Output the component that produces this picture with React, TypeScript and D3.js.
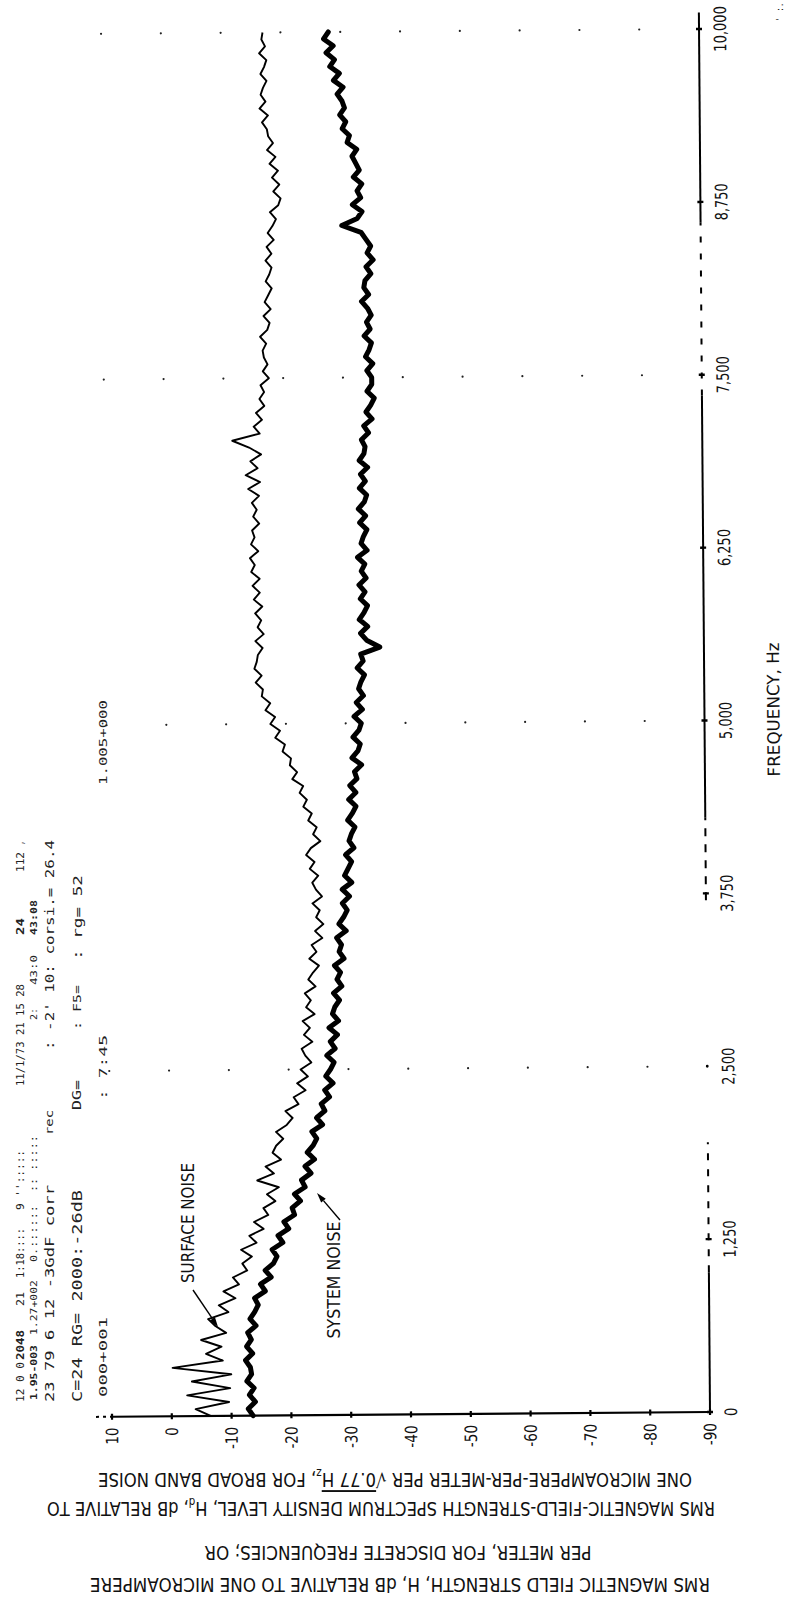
import React from "react";
import * as d3 from "d3";

// ---------------- data ----------------
const dbTicks = [10, 0, -10, -20, -30, -40, -50, -60, -70, -80, -90];
const dbTickLabels = ["10", "0", "-10", "-20", "-30", "-40", "-50", "-60", "-70", "-80", "-90"];
const freqTicks = [0, 1250, 2500, 3750, 5000, 6250, 7500, 8750, 10000];
const freqTickLabels = ["0", "1,250", "2,500", "3,750", "5,000", "6,250", "7,500", "8,750", "10,000"];
const gridDotFreqs = [2500, 5000, 7500, 10000];
const sampleStepHz = 50;

// Surface noise (thin trace), dB, every 50 Hz from 0 to 10,000 Hz
const surfaceNoise = [
  -6.5, -4.0, -9.6, -2.6, -9.8, -3.4, -10.0, -0.2, -8.6, -5.8,
  -8.4, -5.0, -9.2, -7.4, -6.2, -9.6, -8.0, -10.8, -8.8, -11.4,
  -10.4, -12.8, -12.0, -13.6, -11.8, -14.4, -13.2, -15.6, -14.0, -16.4,
  -15.6, -17.6, -16.2, -18.2, -14.6, -17.4, -16.0, -18.6, -17.2, -17.8,
  -19.0, -17.8, -19.6, -20.6, -19.4, -21.6, -20.8, -22.8, -21.4, -23.2,
  -22.0, -23.8, -22.8, -22.2, -24.0, -22.6, -23.6, -22.4, -24.4, -23.0,
  -23.8, -22.8, -24.6, -23.4, -24.2, -25.2, -23.6, -24.8, -24.0, -25.8,
  -24.6, -26.0, -24.8, -25.4, -24.2, -25.8, -24.8, -24.2, -25.2, -23.8,
  -24.6, -23.2, -24.0, -25.6, -24.4, -25.0, -23.6, -24.2, -22.8, -23.4,
  -22.2, -22.8, -21.0, -21.8, -20.6, -20.8, -19.4, -19.8, -18.2, -19.0,
  -17.4, -18.2, -16.6, -17.4, -16.0, -16.2, -15.0, -16.0, -14.8, -15.2,
  -15.4, -16.2, -15.0, -16.4, -15.4, -16.0, -15.0, -16.2, -14.8, -15.8,
  -14.6, -15.8, -14.4, -15.0, -14.2, -15.6, -14.4, -15.0, -14.6, -15.8,
  -14.8, -15.4, -14.6, -15.8, -14.0, -16.0, -13.6, -15.6, -14.4, -16.2,
  -14.2, -11.4, -16.0, -15.0, -16.4, -15.4, -16.8, -16.0, -16.8, -16.2,
  -17.6, -16.6, -17.4, -16.8, -16.6, -17.2, -16.2, -17.4, -17.8, -16.8,
  -18.0, -17.0, -17.6, -18.2, -17.2, -17.8, -18.2, -17.2, -18.2, -17.4,
  -18.6, -17.6, -18.4, -19.0, -18.0, -19.4, -19.8, -18.6, -19.6, -18.4,
  -19.4, -18.0, -19.0, -17.6, -18.6, -17.8, -17.6, -16.8, -17.8, -16.4,
  -17.4, -16.6, -17.0, -17.6, -16.6, -17.2, -17.6, -16.4, -17.4, -16.8,
  -17.0,
];

// System noise (thick trace), dB, every 50 Hz from 0 to 10,000 Hz
const systemNoise = [
  -13.6, -12.8, -14.0, -13.0, -13.8, -12.6, -13.4, -13.2, -12.4, -13.6,
  -12.6, -13.4, -12.8, -14.2, -13.2, -14.0, -14.6, -14.0, -15.8, -15.0,
  -16.8, -15.8, -17.2, -17.8, -17.0, -18.8, -18.0, -19.8, -19.0, -20.8,
  -20.4, -21.8, -20.8, -22.6, -22.0, -23.6, -22.6, -24.2, -23.0, -24.0,
  -24.6, -23.8, -25.6, -24.6, -26.0, -25.4, -26.8, -26.0, -27.4, -26.2,
  -27.0, -27.6, -26.4, -27.8, -27.0, -28.2, -26.8, -28.4, -27.4, -27.8,
  -28.6, -27.6, -29.0, -28.2, -28.8, -27.8, -29.4, -28.6, -29.0, -28.2,
  -29.8, -28.6, -29.4, -30.0, -29.2, -30.4, -29.2, -30.8, -29.6, -30.2,
  -30.8, -29.8, -31.2, -30.4, -30.8, -31.4, -30.2, -31.0, -31.6, -30.4,
  -31.6, -30.6, -31.8, -31.4, -32.6, -31.0, -32.0, -32.4, -31.2, -32.2,
  -32.6, -31.4, -32.8, -31.8, -33.0, -32.2, -32.6, -33.2, -32.0, -33.0,
  -32.6, -35.8, -33.6, -32.6, -33.8, -32.4, -33.2, -33.8, -32.6, -33.4,
  -32.4, -33.6, -32.8, -33.4, -32.2, -33.8, -32.8, -33.2, -33.8, -32.6,
  -33.6, -32.4, -33.4, -33.8, -32.6, -33.6, -32.8, -34.0, -32.6, -33.4,
  -33.6, -33.0, -34.2, -33.4, -34.8, -33.8, -34.6, -35.2, -34.0, -34.8,
  -34.8, -34.0, -35.0, -33.8, -34.4, -34.8, -33.6, -34.6, -34.0, -34.8,
  -34.2, -33.2, -34.4, -33.6, -33.8, -34.8, -34.0, -35.2, -34.2, -34.8,
  -34.0, -33.2, -30.0, -32.6, -33.4, -31.8, -33.2, -32.6, -33.4, -32.0,
  -33.0, -32.4, -31.8, -32.6, -31.0, -31.4, -30.2, -30.8, -29.8, -30.6,
  -30.2, -29.4, -30.4, -28.8, -29.8, -28.2, -29.0, -27.6, -28.8, -27.2,
  -28.0,
];

const xAxisTitle = "FREQUENCY, Hz";
const surfaceLabel = "SURFACE NOISE";
const systemLabel = "SYSTEM NOISE";

// computer printout remnants (rotated text columns)
const printout = [
  { x: 20, y: 1402, len: 40, fs: 10, t: "12 0 0" },
  { x: 20, y: 1360, len: 30, fs: 10, t: "2048", b: true },
  { x: 20, y: 1306, len: 14, fs: 10, t: "21" },
  { x: 20, y: 1278, len: 50, fs: 10, t: "1:18::::" },
  { x: 20, y: 1210, len: 60, fs: 10, t: "9 '':::::" },
  { x: 20, y: 1086, len: 102, fs: 10, t: "11/1/73 21 15 28" },
  { x: 20, y: 935, len: 17, fs: 10, t: "24", b: true },
  { x: 20, y: 872, len: 20, fs: 10, t: "112" },
  { x: 20, y: 845, len: 4, fs: 10, t: "," },
  { x: 34, y: 1400, len: 55, fs: 9, t: "1.95-003", b: true },
  { x: 34, y: 1335, len: 55, fs: 9, t: "1.27+002" },
  { x: 34, y: 1262, len: 57, fs: 9, t: "0.::::::" },
  { x: 34, y: 1192, len: 57, fs: 9, t: ":: :::::" },
  { x: 34, y: 1020, len: 12, fs: 9, t: "2:" },
  { x: 34, y: 985, len: 30, fs: 9, t: "43:0" },
  { x: 34, y: 935, len: 35, fs: 9, t: "43:08", b: true },
  { x: 49, y: 1402, len: 217, fs: 13, t: "23  79   6 12   -3GdF corr" },
  { x: 49, y: 1135, len: 25, fs: 11, t: "rec" },
  { x: 49, y: 1050, len: 210, fs: 13, t: ": -2'  10: corsi.= 26.4" },
  { x: 77, y: 1402, len: 212, fs: 14, t: "C=24 RG= 2000:-26dB" },
  { x: 77, y: 1110, len: 30, fs: 12, t: "DG=" },
  { x: 77, y: 1030, len: 45, fs: 11, t: ":  F5=" },
  { x: 77, y: 960, len: 85, fs: 13, t: ":  rg= 52" },
  { x: 103, y: 1397, len: 80, fs: 10, t: "000+001" },
  { x: 103, y: 1100, len: 65, fs: 10, t: ": 7:45" },
  { x: 103, y: 785, len: 85, fs: 10, t: "1.005+000" },
];

// frequency axis line segments (scan shows broken sections)
const freqAxisSegments = [
  { from: 0, to: 1010, dash: "" },
  { from: 1010, to: 1950, dash: "7 9" },
  { from: 3700, to: 4300, dash: "8 8" },
  { from: 4300, to: 7350, dash: "" },
  { from: 7350, to: 8600, dash: "6 11" },
  { from: 8600, to: 10120, dash: "" },
];

const FONT = "'DejaVu Sans Condensed', 'Liberation Sans Narrow', 'DejaVu Sans', sans-serif";
const MONO = "'DejaVu Sans Mono', 'Liberation Mono', monospace";

function glyphLen(s: string) {
  let w = 0;
  for (const c of s) {
    if (c === "," || c === ".") w += 3.6;
    else if (c === "-") w += 5.5;
    else w += 8.4;
  }
  return w;
}

function Arrow({ x1, y1, x2, y2 }: { x1: number; y1: number; x2: number; y2: number }) {
  const a = Math.atan2(y2 - y1, x2 - x1);
  const L = 10, hw = 3;
  const bx = x2 - L * Math.cos(a), by = y2 - L * Math.sin(a);
  const p1 = [bx + hw * Math.sin(a), by - hw * Math.cos(a)];
  const p2 = [bx - hw * Math.sin(a), by + hw * Math.cos(a)];
  return (
    <g>
      <line x1={x1} y1={y1} x2={bx} y2={by} stroke="#000" strokeWidth={1.4} />
      <polygon points={`${x2},${y2} ${p1[0]},${p1[1]} ${p2[0]},${p2[1]}`} fill="#000" />
    </g>
  );
}

export default function App() {
  const W = 790, H = 1606;
  const xDb = d3.scaleLinear().domain([10, -90]).range([112, 710]);
  const yHz = d3.scaleLinear().domain([0, 10000]).range([1412, 29]);
  const freqs = surfaceNoise.map((_, i) => i * sampleStepHz);
  const lineGen = d3
    .line<number>()
    .x((d) => xDb(d))
    .y((_, i) => yHz(freqs[i]))
    .curve(d3.curveLinear);

  const axisY = yHz(0);
  const axisX = xDb(-90);

  return (
    <svg
      width={W}
      height={H}
      viewBox={`0 0 ${W} ${H}`}
      style={{ position: "absolute", left: 0, top: 0, background: "#fff" }}
    >
      <rect x={0} y={0} width={W} height={H} fill="#fff" />
      {/* chart frame, slightly tilted like the scan */}
      <g transform={`rotate(-0.455, ${axisX}, ${axisY})`}>
        {/* grid dots */}
        {gridDotFreqs.map((f) =>
          dbTicks.slice(0, -1).map((d) => (
            <circle key={`g${f}_${d}`} cx={xDb(d)} cy={yHz(f)} r={1.1} fill="#222" />
          ))
        )}
        {/* dB axis */}
        <line x1={xDb(10)} y1={axisY} x2={axisX} y2={axisY} stroke="#000" strokeWidth={2.2} />
        <line x1={xDb(10) - 16} y1={axisY} x2={xDb(10)} y2={axisY} stroke="#000" strokeWidth={2} strokeDasharray="3 4" />
        {dbTicks.map((d) => (
          <line key={`dt${d}`} x1={xDb(d)} y1={axisY - 3} x2={xDb(d)} y2={axisY + 3} stroke="#000" strokeWidth={2.2} />
        ))}
        {dbTicks.map((d, i) => (
          <text
            key={`dl${d}`}
            x={xDb(d)}
            y={1423}
            transform={`rotate(-90, ${xDb(d)}, 1423)`}
            textAnchor="end"
            dominantBaseline="central"
            fontFamily={FONT}
            fontSize={17}
            textLength={glyphLen(dbTickLabels[i])}
            lengthAdjust="spacingAndGlyphs"
            fill="#111"
          >
            {dbTickLabels[i]}
          </text>
        ))}
        {/* frequency axis */}
        {freqAxisSegments.map((s, i) => (
          <line
            key={`fs${i}`}
            x1={axisX}
            y1={yHz(s.from)}
            x2={axisX}
            y2={yHz(s.to)}
            stroke="#000"
            strokeWidth={2}
            strokeDasharray={s.dash || undefined}
          />
        ))}
        {freqTicks.map((f) =>
          f === 2500 ? (
            <circle key={`ft${f}`} cx={axisX} cy={yHz(f)} r={1.4} fill="#000" />
          ) : (
            <line key={`ft${f}`} x1={axisX - 3} y1={yHz(f)} x2={axisX + 3} y2={yHz(f)} stroke="#000" strokeWidth={2.4} />
          )
        )}
        {freqTicks.map((f, i) => (
          <text
            key={`fl${f}`}
            x={731}
            y={yHz(f)}
            transform={`rotate(-90, 731, ${yHz(f)})`}
            textAnchor="middle"
            dominantBaseline="central"
            fontFamily={FONT}
            fontSize={17}
            textLength={glyphLen(freqTickLabels[i])}
            lengthAdjust="spacingAndGlyphs"
            fill="#111"
          >
            {freqTickLabels[i]}
          </text>
        ))}
        <text
          x={779}
          y={710}
          transform="rotate(-90, 779, 710)"
          textAnchor="middle"
          dominantBaseline="central"
          fontFamily={FONT}
          fontSize={17}
          textLength={134}
          lengthAdjust="spacingAndGlyphs"
          fill="#111"
        >
          {xAxisTitle}
        </text>
        {/* traces */}
        <path d={lineGen(surfaceNoise) || ""} fill="none" stroke="#000" strokeWidth={1.9} strokeLinejoin="round" />
        <path d={lineGen(systemNoise) || ""} fill="none" stroke="#000" strokeWidth={5} strokeLinejoin="round" strokeLinecap="round" />
      </g>

      {/* trace labels */}
      <text
        x={188}
        y={1223}
        transform="rotate(-90, 188, 1223)"
        textAnchor="middle"
        dominantBaseline="central"
        fontFamily={FONT}
        fontSize={17}
        textLength={120}
        lengthAdjust="spacingAndGlyphs"
        fill="#111"
      >
        {surfaceLabel}
      </text>
      <Arrow x1={193} y1={1290} x2={218} y2={1327} />
      <text
        x={334}
        y={1280}
        transform="rotate(-90, 334, 1280)"
        textAnchor="middle"
        dominantBaseline="central"
        fontFamily={FONT}
        fontSize={17}
        textLength={117}
        lengthAdjust="spacingAndGlyphs"
        fill="#111"
      >
        {systemLabel}
      </text>
      <Arrow x1={340} y1={1220} x2={317} y2={1193} />

      {/* y-axis title (upside down) */}
      <g fontFamily={FONT} fill="#111" style={{ whiteSpace: "pre" }}>
        <text x={395} y={1480} transform="rotate(180, 395, 1480)" textAnchor="middle" dominantBaseline="central" fontSize={19} textLength={594} lengthAdjust="spacingAndGlyphs">
          {"ONE  MICROAMPERE-PER-METER  PER √"}
          <tspan textDecoration="overline">{"0.77 H"}</tspan>
          <tspan baselineShift="sub" fontSize={12}>z</tspan>
          {", FOR BROAD BAND NOISE"}
        </text>
        <text x={381} y={1509} transform="rotate(180, 381, 1509)" textAnchor="middle" dominantBaseline="central" fontSize={19} textLength={668} lengthAdjust="spacingAndGlyphs">
          {"RMS MAGNETIC-FIELD-STRENGTH SPECTRUM DENSITY LEVEL, H"}
          <tspan baselineShift="sub" fontSize={12}>d</tspan>
          {", dB RELATIVE TO"}
        </text>
        <text x={398} y={1553} transform="rotate(180, 398, 1553)" textAnchor="middle" dominantBaseline="central" fontSize={19} textLength={387} lengthAdjust="spacingAndGlyphs">
          {"PER METER, FOR DISCRETE FREQUENCIES; OR"}
        </text>
        <text x={400} y={1585} transform="rotate(180, 400, 1585)" textAnchor="middle" dominantBaseline="central" fontSize={19} textLength={620} lengthAdjust="spacingAndGlyphs">
          {"RMS MAGNETIC FIELD STRENGTH, H, dB RELATIVE TO ONE MICROAMPERE"}
        </text>
      </g>

      {/* printout remnants */}
      <g fontFamily={MONO} fill="#222" style={{ whiteSpace: "pre" }}>
        {printout.map((p, i) => (
          <text
            key={`p${i}`}
            x={p.x}
            y={p.y}
            transform={`rotate(-90, ${p.x}, ${p.y})`}
            textAnchor="start"
            dominantBaseline="central"
            fontSize={p.fs}
            fontWeight={p.b ? "bold" : "normal"}
            textLength={p.len}
            lengthAdjust="spacingAndGlyphs"
          >
            {p.t}
          </text>
        ))}
        <text x={780} y={12} transform="rotate(-90, 780, 12)" textAnchor="middle" dominantBaseline="central" fontSize={8}>
          {"' :."}
        </text>
      </g>
    </svg>
  );
}
